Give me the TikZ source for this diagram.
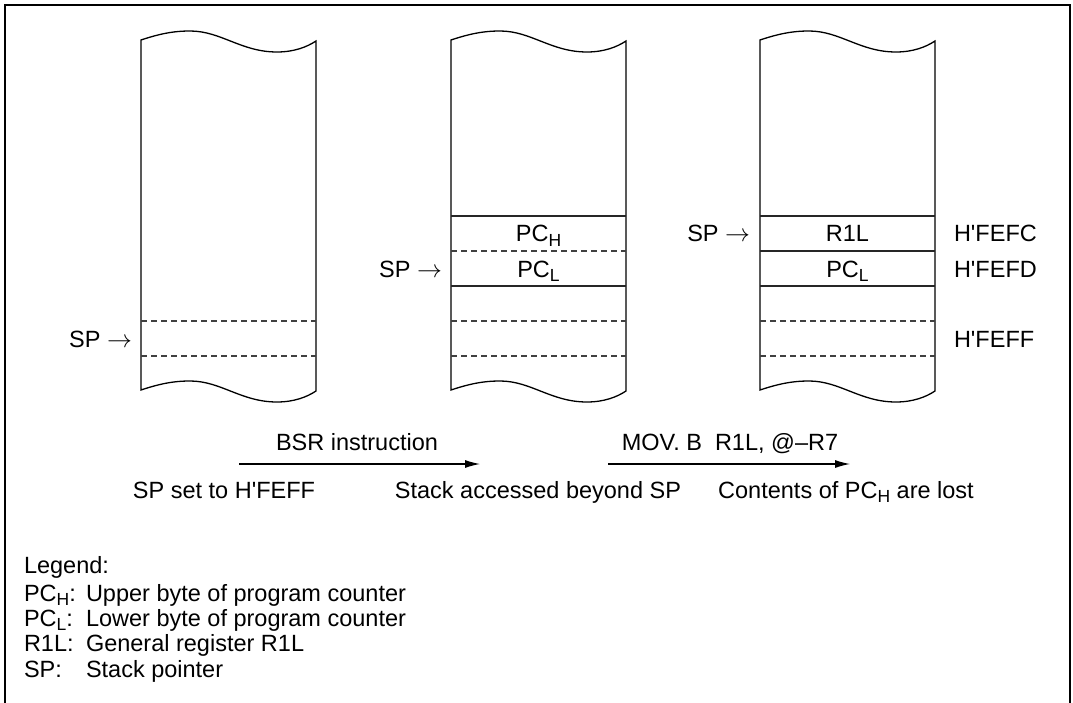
\documentclass[tikz,border=0pt]{standalone}
\usepackage{fontspec}
\setmainfont{Liberation Sans}[Ligatures=TeXOff]
\usetikzlibrary{arrows.meta}
\newcommand{\lsub}[1]{\raisebox{-4.3pt}{\fontsize{17.5}{20}\selectfont #1}}
\tikzset{
  every node/.style={inner sep=0pt, outer sep=0pt, font=\fontsize{23.5}{28}\selectfont},
  frameline/.style={line width=1.8pt, black},
  colline/.style={line width=1.3pt, black},
  rowsolid/.style={line width=1.1pt, black!85},
  rowdash/.style={line width=1.1pt, black!75, dash pattern=on 6pt off 4pt},
  flowarrow/.style={line width=1.1pt, -{Latex[length=15pt,width=8pt]}},
  celltext/.style={anchor=base},
  sptext/.style={anchor=base east},
  addrtext/.style={anchor=base west},
  legtext/.style={anchor=base west},
}
\newcommand{\stackcolumn}{%
  \draw[colline] (0,40) .. controls (18,34) and (32,31) .. (49,31)
    .. controls (80,31) and (100,52) .. (136,52)
    .. controls (153,52) and (166,47) .. (175,41) -- (175,391)
    .. controls (166,397) and (153,402) .. (136,402)
    .. controls (100,402) and (80,381) .. (49,381)
    .. controls (32,381) and (18,384) .. (0,390) -- cycle;
}
\begin{document}
\begin{tikzpicture}[x=1pt,y=-1pt]
\useasboundingbox (0,0) rectangle (1073,703);
% frame
\draw[frameline] (5,703) -- (5,5) -- (1070,5) -- (1070,703);

% column 1
\begin{scope}[xshift=141pt]
  \stackcolumn
  \draw[rowdash] (0,321) -- (175,321);
  \draw[rowdash] (0,356) -- (175,356);
\end{scope}
% column 2
\begin{scope}[xshift=451pt]
  \stackcolumn
  \draw[rowsolid] (0,216) -- (175,216);
  \draw[rowdash] (0,251) -- (175,251);
  \draw[rowsolid] (0,286) -- (175,286);
  \draw[rowdash] (0,321) -- (175,321);
  \draw[rowdash] (0,356) -- (175,356);
\end{scope}
% column 3
\begin{scope}[xshift=760pt]
  \stackcolumn
  \draw[rowsolid] (0,216) -- (175,216);
  \draw[rowsolid] (0,251) -- (175,251);
  \draw[rowsolid] (0,286) -- (175,286);
  \draw[rowdash] (0,321) -- (175,321);
  \draw[rowdash] (0,356) -- (175,356);
\end{scope}

% cell texts
\node[celltext] (pch2) at (538.5,242) {PC\lsub{H}};
\node[celltext] (pcl2) at (538.5,277) {PC\lsub{L}};
\node[celltext] (r1l3) at (847.5,242) {R1L};
\node[celltext] (pcl3) at (847.5,277) {PC\lsub{L}};

% SP pointers
\node[sptext] (sp1) at (132,347) {SP $\rightarrow$};
\node[sptext] (sp2) at (442,277) {SP $\rightarrow$};
\node[sptext] (sp3) at (750,242) {SP $\rightarrow$};

% addresses
\node[addrtext] (ad1) at (954,242) {H'FEFC};
\node[addrtext] (ad2) at (954,277) {H'FEFD};
\node[addrtext] (ad3) at (954,347) {H'FEFF};

% transitions
\coordinate (a1s) at (239,464);
\coordinate (a1e) at (480,464);
\draw[flowarrow] (a1s) -- (a1e);
\node[celltext] (bsr) at (357,450) {BSR instruction};
\coordinate (a2s) at (608,464);
\coordinate (a2e) at (850,464);
\draw[flowarrow] (a2s) -- (a2e);
\node[celltext] (mov) at (730,450) {MOV. B\ \ R1L, @–R7};

% captions
\node[celltext] (cap1) at (224,498) {SP set to H'FEFF};
\node[celltext] (cap2) at (538,498) {Stack accessed beyond SP};
\node[celltext] (cap3) at (846,498) {Contents of PC\lsub{H} are lost};

% legend
\node[legtext] (lg0) at (24,573) {Legend:};
\node[legtext] (lg1k) at (24,601) {PC\lsub{H}:};
\node[legtext] (lg1v) at (86,601) {Upper byte of program counter};
\node[legtext] (lg2k) at (24,626) {PC\lsub{L}:};
\node[legtext] (lg2v) at (86,626) {Lower byte of program counter};
\node[legtext] (lg3k) at (24,651) {R1L:};
\node[legtext] (lg3v) at (86,651) {General register R1L};
\node[legtext] (lg4k) at (24,677) {SP:};
\node[legtext] (lg4v) at (86,677) {Stack pointer};
\end{tikzpicture}
\end{document}
